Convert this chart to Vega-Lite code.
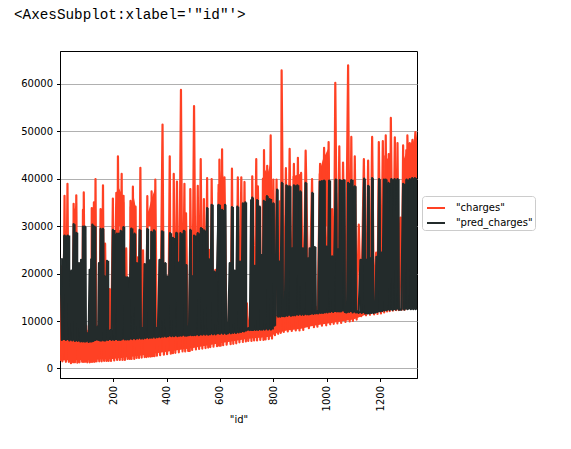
{
"$schema":"https://vega.github.io/schema/vega-lite/v6.json",
"width":357,"height":327,
"autosize":{"type":"none"},
"padding":{"left":60,"top":51,"right":154,"bottom":71},
"background":"white",
"title":{"text":"<AxesSubplot:xlabel='\"id\"'>","font":"Liberation Mono","fontSize":14.3,"fontWeight":"normal","color":"#000","anchor":"start","frame":"group","dx":-46,"offset":29},
"config":{"view":{"stroke":"#000","strokeWidth":1},"axis":{"labelFont":"DejaVu Sans","labelFontSize":10,"labelColor":"#000","titleFont":"DejaVu Sans","titleFontSize":10,"titleFontWeight":"normal","titleColor":"#000","domainColor":"#000","tickColor":"#000","tickSize":3.5}},
"datasets":{
"broad":[{"seg":"A","id":50,"top":33000},{"seg":"A","id":65,"top":35000},{"seg":"B","id":85,"top":33000},{"seg":"B","id":92,"top":36000},{"seg":"C","id":118,"top":33000},{"seg":"C","id":130,"top":34500},{"seg":"D","id":208,"top":34000},{"seg":"D","id":216,"top":37000},{"seg":"D","id":222,"top":38000},{"seg":"D","id":235,"top":36500},{"seg":"D","id":242,"top":35000},{"seg":"E","id":262,"top":34000},{"seg":"E","id":268,"top":35000},{"seg":"E","id":278,"top":36000},{"seg":"E","id":286,"top":33500},{"seg":"F","id":326,"top":35500},{"seg":"F","id":332,"top":33000},{"seg":"F","id":340,"top":35000},{"seg":"F","id":348,"top":36500},{"seg":"F","id":358,"top":38000},{"seg":"G","id":592,"top":37000},{"seg":"G","id":600,"top":40000},{"seg":"G","id":607,"top":43000},{"seg":"G","id":618,"top":38000},{"seg":"H","id":758,"top":38000},{"seg":"H","id":768,"top":42000},{"seg":"H","id":778,"top":41000},{"seg":"H","id":792,"top":44000},{"seg":"L","id":872,"top":40500},{"seg":"L","id":900,"top":41000},{"seg":"I","id":970,"top":41000},{"seg":"I","id":985,"top":44000},{"seg":"I","id":1007,"top":46500},{"seg":"I","id":1012,"top":43000},{"seg":"K","id":1215,"top":45000},{"seg":"K","id":1232,"top":44000},{"seg":"J","id":1288,"top":44000},{"seg":"J","id":1300,"top":46000},{"seg":"J","id":1310,"top":46000},{"seg":"J","id":1320,"top":47000},{"seg":"J","id":1338,"top":48000}],
"band":[{"id":1,"lo":1700,"hi":6300},{"id":100,"lo":1800,"hi":6000},{"id":200,"lo":2000,"hi":6300},{"id":300,"lo":2700,"hi":6600},{"id":400,"lo":3500,"hi":7100},{"id":500,"lo":4300,"hi":7300},{"id":600,"lo":5300,"hi":7600},{"id":655,"lo":5800,"hi":7800},{"id":700,"lo":6200,"hi":8400},{"id":790,"lo":6700,"hi":8500},{"id":800,"lo":7100,"hi":9000},{"id":805,"lo":7300,"hi":11200},{"id":850,"lo":8000,"hi":11400},{"id":900,"lo":8300,"hi":11600},{"id":950,"lo":9000,"hi":11900},{"id":1030,"lo":9700,"hi":12300},{"id":1100,"lo":10300,"hi":12100},{"id":1150,"lo":11400,"hi":11900},{"id":1180,"lo":11700,"hi":12000},{"id":1220,"lo":12200,"hi":12400}],
"charges":[{"id":1,"charges":1600},{"id":4,"charges":9000},{"id":7,"charges":21500},{"id":10,"charges":1500},{"id":14,"charges":9000},{"id":18,"charges":36400},{"id":23,"charges":1400},{"id":29,"charges":38900},{"id":34,"charges":1400},{"id":38,"charges":9000},{"id":42,"charges":1100},{"id":47,"charges":9000},{"id":50,"charges":1300},{"id":52,"charges":34700},{"id":57,"charges":1300},{"id":62,"charges":36500},{"id":66,"charges":1200},{"id":70,"charges":9000},{"id":74,"charges":1300},{"id":80,"charges":9000},{"id":84,"charges":1400},{"id":87,"charges":33400},{"id":89,"charges":1400},{"id":90,"charges":37100},{"id":95,"charges":1400},{"id":99,"charges":9000},{"id":103,"charges":1300},{"id":108,"charges":8000},{"id":112,"charges":1300},{"id":116,"charges":9000},{"id":118,"charges":1400},{"id":120,"charges":33800},{"id":124,"charges":1400},{"id":128,"charges":35000},{"id":131,"charges":1400},{"id":134,"charges":39900},{"id":138,"charges":1500},{"id":144,"charges":9000},{"id":148,"charges":1500},{"id":153,"charges":33600},{"id":157,"charges":1500},{"id":162,"charges":38600},{"id":166,"charges":1600},{"id":170,"charges":26300},{"id":175,"charges":1600},{"id":180,"charges":9000},{"id":183,"charges":1600},{"id":187,"charges":16700},{"id":192,"charges":1600},{"id":199,"charges":35800},{"id":204,"charges":1700},{"id":212,"charges":37000},{"id":215,"charges":1800},{"id":218,"charges":44700},{"id":225,"charges":1800},{"id":232,"charges":41000},{"id":235,"charges":1800},{"id":239,"charges":36400},{"id":244,"charges":1800},{"id":249,"charges":25300},{"id":254,"charges":2000},{"id":259,"charges":9000},{"id":262,"charges":2000},{"id":265,"charges":35300},{"id":269,"charges":2000},{"id":274,"charges":38300},{"id":279,"charges":2000},{"id":284,"charges":34100},{"id":288,"charges":2200},{"id":292,"charges":23400},{"id":297,"charges":2200},{"id":302,"charges":42300},{"id":307,"charges":2300},{"id":312,"charges":24900},{"id":318,"charges":2400},{"id":323,"charges":9000},{"id":325,"charges":2400},{"id":328,"charges":36300},{"id":333,"charges":2500},{"id":338,"charges":10000},{"id":341,"charges":2500},{"id":344,"charges":37300},{"id":348,"charges":2600},{"id":352,"charges":35000},{"id":355,"charges":2600},{"id":358,"charges":39800},{"id":364,"charges":2700},{"id":371,"charges":10000},{"id":376,"charges":2800},{"id":385,"charges":51400},{"id":390,"charges":2900},{"id":397,"charges":9500},{"id":402,"charges":3000},{"id":407,"charges":9000},{"id":412,"charges":44700},{"id":416,"charges":3100},{"id":422,"charges":9500},{"id":424,"charges":3200},{"id":427,"charges":41000},{"id":433,"charges":3300},{"id":439,"charges":39400},{"id":446,"charges":3400},{"id":454,"charges":58700},{"id":460,"charges":3600},{"id":467,"charges":38900},{"id":470,"charges":3600},{"id":473,"charges":32700},{"id":481,"charges":3700},{"id":485,"charges":10000},{"id":487,"charges":3700},{"id":489,"charges":37800},{"id":496,"charges":3900},{"id":503,"charges":55300},{"id":510,"charges":4000},{"id":517,"charges":38500},{"id":522,"charges":4100},{"id":528,"charges":44100},{"id":534,"charges":4200},{"id":540,"charges":35700},{"id":546,"charges":4300},{"id":552,"charges":40100},{"id":556,"charges":4400},{"id":559,"charges":25000},{"id":564,"charges":4500},{"id":569,"charges":39900},{"id":576,"charges":4600},{"id":583,"charges":20800},{"id":589,"charges":4700},{"id":595,"charges":38700},{"id":597,"charges":4800},{"id":598,"charges":44000},{"id":603,"charges":4800},{"id":608,"charges":46200},{"id":612,"charges":4900},{"id":617,"charges":40300},{"id":625,"charges":5000},{"id":635,"charges":10000},{"id":640,"charges":5100},{"id":645,"charges":42100},{"id":650,"charges":5200},{"id":655,"charges":20400},{"id":661,"charges":5300},{"id":667,"charges":40300},{"id":673,"charges":5500},{"id":680,"charges":40300},{"id":686,"charges":5600},{"id":692,"charges":39300},{"id":697,"charges":5700},{"id":701,"charges":13700},{"id":706,"charges":5800},{"id":714,"charges":12000},{"id":718,"charges":5800},{"id":721,"charges":40500},{"id":728,"charges":5900},{"id":736,"charges":44100},{"id":739,"charges":5900},{"id":742,"charges":38400},{"id":751,"charges":6000},{"id":758,"charges":10000},{"id":761,"charges":40000},{"id":763,"charges":6000},{"id":765,"charges":46000},{"id":771,"charges":6100},{"id":777,"charges":42700},{"id":783,"charges":6200},{"id":790,"charges":49100},{"id":795,"charges":6300},{"id":800,"charges":39800},{"id":806,"charges":7000},{"id":812,"charges":39800},{"id":818,"charges":7300},{"id":824,"charges":35200},{"id":828,"charges":7500},{"id":831,"charges":62800},{"id":839,"charges":7700},{"id":847,"charges":42200},{"id":854,"charges":7800},{"id":861,"charges":46300},{"id":869,"charges":7900},{"id":877,"charges":43100},{"id":884,"charges":8000},{"id":892,"charges":44400},{"id":898,"charges":8000},{"id":904,"charges":41200},{"id":912,"charges":8100},{"id":921,"charges":45900},{"id":933,"charges":8500},{"id":945,"charges":39900},{"id":952,"charges":8700},{"id":958,"charges":13000},{"id":965,"charges":8800},{"id":975,"charges":43100},{"id":982,"charges":9000},{"id":990,"charges":46500},{"id":998,"charges":9100},{"id":1007,"charges":47700},{"id":1013,"charges":9300},{"id":1020,"charges":33600},{"id":1026,"charges":9400},{"id":1032,"charges":60200},{"id":1040,"charges":9500},{"id":1047,"charges":46800},{"id":1054,"charges":9600},{"id":1061,"charges":43400},{"id":1070,"charges":9800},{"id":1080,"charges":63900},{"id":1086,"charges":9900},{"id":1092,"charges":48800},{"id":1098,"charges":10000},{"id":1105,"charges":44700},{"id":1112,"charges":10300},{"id":1120,"charges":30300},{"id":1129,"charges":11000},{"id":1139,"charges":44100},{"id":1147,"charges":11200},{"id":1155,"charges":43800},{"id":1162,"charges":11300},{"id":1170,"charges":48800},{"id":1177,"charges":11400},{"id":1185,"charges":24400},{"id":1190,"charges":11500},{"id":1195,"charges":47700},{"id":1203,"charges":11600},{"id":1210,"charges":47900},{"id":1215,"charges":11800},{"id":1221,"charges":49100},{"id":1226,"charges":12000},{"id":1232,"charges":45200},{"id":1236,"charges":12100},{"id":1240,"charges":52800},{"id":1248,"charges":12200},{"id":1255,"charges":48700},{"id":1260,"charges":12300},{"id":1265,"charges":47500},{"id":1270,"charges":12300},{"id":1276,"charges":31800},{"id":1281,"charges":12400},{"id":1286,"charges":47000},{"id":1292,"charges":12400},{"id":1298,"charges":46000},{"id":1300,"charges":14000},{"id":1302,"charges":49100},{"id":1306,"charges":40000},{"id":1311,"charges":47500},{"id":1316,"charges":45000},{"id":1321,"charges":48200},{"id":1326,"charges":44000},{"id":1332,"charges":49800},{"id":1336,"charges":47000},{"id":1338,"charges":48500}],
"pred":[{"id":3,"p":23200},{"id":8,"p":6000},{"id":18,"p":28000},{"id":23,"p":6000},{"id":30,"p":28000},{"id":36,"p":5900},{"id":43,"p":20600},{"id":47,"p":5900},{"id":52,"p":30400},{"id":57,"p":5800},{"id":62,"p":28600},{"id":67,"p":5800},{"id":72,"p":22200},{"id":77,"p":5700},{"id":80,"p":22900},{"id":85,"p":5700},{"id":87,"p":29900},{"id":92,"p":5700},{"id":94,"p":29900},{"id":98,"p":5700},{"id":103,"p":7400},{"id":108,"p":5600},{"id":112,"p":20800},{"id":115,"p":5700},{"id":118,"p":23000},{"id":120,"p":5700},{"id":122,"p":30300},{"id":126,"p":5800},{"id":130,"p":29900},{"id":134,"p":6000},{"id":142,"p":8800},{"id":144,"p":6000},{"id":147,"p":22200},{"id":151,"p":5900},{"id":153,"p":29400},{"id":157,"p":5900},{"id":162,"p":29400},{"id":166,"p":5900},{"id":168,"p":19400},{"id":171,"p":5900},{"id":177,"p":22700},{"id":181,"p":6000},{"id":190,"p":8100},{"id":194,"p":6000},{"id":199,"p":29200},{"id":204,"p":6000},{"id":214,"p":28400},{"id":218,"p":6000},{"id":222,"p":28400},{"id":226,"p":6000},{"id":228,"p":29000},{"id":232,"p":6100},{"id":239,"p":29800},{"id":244,"p":6100},{"id":247,"p":19200},{"id":251,"p":6100},{"id":254,"p":19200},{"id":259,"p":6100},{"id":268,"p":29500},{"id":272,"p":6200},{"id":280,"p":28400},{"id":284,"p":6200},{"id":289,"p":22200},{"id":294,"p":6300},{"id":299,"p":29200},{"id":304,"p":6300},{"id":309,"p":8500},{"id":313,"p":6300},{"id":318,"p":22000},{"id":322,"p":6400},{"id":328,"p":29400},{"id":333,"p":6400},{"id":337,"p":22800},{"id":341,"p":6500},{"id":343,"p":28800},{"id":347,"p":6500},{"id":353,"p":29100},{"id":358,"p":6500},{"id":362,"p":8500},{"id":367,"p":6600},{"id":374,"p":22900},{"id":378,"p":6600},{"id":383,"p":28900},{"id":388,"p":6700},{"id":395,"p":22200},{"id":399,"p":6700},{"id":402,"p":19400},{"id":406,"p":6800},{"id":413,"p":28500},{"id":418,"p":6800},{"id":424,"p":27500},{"id":428,"p":6800},{"id":437,"p":28600},{"id":441,"p":6800},{"id":446,"p":22300},{"id":449,"p":6900},{"id":452,"p":28500},{"id":457,"p":6900},{"id":465,"p":29000},{"id":469,"p":6900},{"id":474,"p":21800},{"id":476,"p":6900},{"id":480,"p":8800},{"id":484,"p":7000},{"id":489,"p":29200},{"id":493,"p":7000},{"id":497,"p":19400},{"id":500,"p":7000},{"id":503,"p":28000},{"id":508,"p":7000},{"id":517,"p":28500},{"id":521,"p":7000},{"id":529,"p":29600},{"id":534,"p":7100},{"id":540,"p":29100},{"id":545,"p":7100},{"id":552,"p":33800},{"id":556,"p":7100},{"id":559,"p":23000},{"id":563,"p":7200},{"id":569,"p":34500},{"id":574,"p":7200},{"id":580,"p":20400},{"id":584,"p":7200},{"id":595,"p":34500},{"id":600,"p":7300},{"id":608,"p":33400},{"id":612,"p":7300},{"id":619,"p":34500},{"id":623,"p":7300},{"id":626,"p":9500},{"id":630,"p":7400},{"id":637,"p":22200},{"id":641,"p":7400},{"id":645,"p":34000},{"id":650,"p":7500},{"id":655,"p":20600},{"id":660,"p":7500},{"id":665,"p":34100},{"id":670,"p":7600},{"id":675,"p":22500},{"id":679,"p":7700},{"id":686,"p":34800},{"id":690,"p":7800},{"id":695,"p":35000},{"id":698,"p":8000},{"id":706,"p":8500},{"id":712,"p":8100},{"id":717,"p":35500},{"id":719,"p":8100},{"id":721,"p":36000},{"id":725,"p":8100},{"id":730,"p":21600},{"id":734,"p":8100},{"id":739,"p":35500},{"id":743,"p":8100},{"id":749,"p":34100},{"id":753,"p":8200},{"id":755,"p":23900},{"id":759,"p":8200},{"id":764,"p":35300},{"id":768,"p":8200},{"id":776,"p":36300},{"id":780,"p":8200},{"id":786,"p":35700},{"id":791,"p":8200},{"id":800,"p":34800},{"id":804,"p":9000},{"id":807,"p":11000},{"id":814,"p":37700},{"id":818,"p":10900},{"id":822,"p":22500},{"id":826,"p":10900},{"id":832,"p":39100},{"id":836,"p":11000},{"id":841,"p":12000},{"id":843,"p":11000},{"id":849,"p":38600},{"id":853,"p":11100},{"id":861,"p":38400},{"id":866,"p":11100},{"id":870,"p":25300},{"id":874,"p":11200},{"id":877,"p":38600},{"id":882,"p":11200},{"id":890,"p":38600},{"id":894,"p":11300},{"id":901,"p":37300},{"id":905,"p":11300},{"id":910,"p":25300},{"id":914,"p":11300},{"id":921,"p":39100},{"id":925,"p":11400},{"id":930,"p":23200},{"id":933,"p":11400},{"id":936,"p":25300},{"id":940,"p":11500},{"id":946,"p":37000},{"id":950,"p":11500},{"id":955,"p":25600},{"id":959,"p":11600},{"id":964,"p":12000},{"id":968,"p":11600},{"id":974,"p":39400},{"id":978,"p":11700},{"id":982,"p":39500},{"id":986,"p":11700},{"id":990,"p":39600},{"id":994,"p":11800},{"id":999,"p":25700},{"id":1003,"p":11800},{"id":1009,"p":39600},{"id":1013,"p":11900},{"id":1020,"p":23600},{"id":1024,"p":11900},{"id":1034,"p":39800},{"id":1038,"p":12000},{"id":1042,"p":25100},{"id":1046,"p":12000},{"id":1049,"p":39700},{"id":1053,"p":12000},{"id":1064,"p":39700},{"id":1068,"p":11900},{"id":1074,"p":11800},{"id":1076,"p":11900},{"id":1080,"p":39100},{"id":1084,"p":11900},{"id":1092,"p":39700},{"id":1097,"p":11800},{"id":1105,"p":38400},{"id":1109,"p":11800},{"id":1115,"p":12000},{"id":1119,"p":11700},{"id":1127,"p":22900},{"id":1131,"p":11700},{"id":1140,"p":40000},{"id":1144,"p":11600},{"id":1149,"p":22900},{"id":1152,"p":11600},{"id":1155,"p":38500},{"id":1159,"p":11600},{"id":1164,"p":23200},{"id":1167,"p":11700},{"id":1170,"p":40100},{"id":1175,"p":11700},{"id":1178,"p":12000},{"id":1182,"p":11800},{"id":1186,"p":23500},{"id":1190,"p":11900},{"id":1196,"p":39900},{"id":1200,"p":12000},{"id":1205,"p":24400},{"id":1208,"p":12100},{"id":1214,"p":39800},{"id":1217,"p":12200},{"id":1221,"p":39800},{"id":1225,"p":12300},{"id":1231,"p":39100},{"id":1235,"p":12300},{"id":1242,"p":39900},{"id":1246,"p":12300},{"id":1254,"p":39900},{"id":1258,"p":12400},{"id":1265,"p":39900},{"id":1270,"p":12400},{"id":1276,"p":12400},{"id":1279,"p":12400},{"id":1286,"p":38900},{"id":1290,"p":12400},{"id":1299,"p":39800},{"id":1303,"p":12500},{"id":1311,"p":39900},{"id":1315,"p":12500},{"id":1320,"p":40100},{"id":1324,"p":12500},{"id":1330,"p":40100},{"id":1333,"p":12500},{"id":1338,"p":40100}]
},
"encoding":{
"x":{"type":"quantitative","scale":{"domain":[1,1338],"nice":false,"zero":false},"axis":{"values":[200,400,600,800,1000,1200],"grid":false,"labelAngle":-90,"labelAlign":"right","labelBaseline":"middle","title":"\"id\"","titleY":36,"labelPadding":4,"format":"d"}},
"y":{"type":"quantitative","scale":{"domain":[-2011,66902],"nice":false,"zero":false},"axis":{"values":[0,10000,20000,30000,40000,50000,60000],"grid":true,"gridColor":"#b0b0b0","gridWidth":1,"title":null,"labelPadding":4,"format":"d"}}
},
"layer":[
{"data":{"name":"band"},"mark":{"type":"area","color":"#ff4124","clip":true},
"encoding":{"x":{"field":"id","type":"quantitative"},"y":{"field":"lo","type":"quantitative"},"y2":{"field":"hi"}}},
{"data":{"name":"broad"},"mark":{"type":"area","color":"#ff4124","clip":true},
"encoding":{"x":{"field":"id","type":"quantitative"},"y":{"field":"top","type":"quantitative"},"y2":{"datum":30000},"detail":{"field":"seg"}}},
{"data":{"name":"charges"},"mark":{"type":"line","strokeWidth":2.2,"clip":true,"strokeJoin":"round"},
"encoding":{"x":{"field":"id","type":"quantitative"},"y":{"field":"charges","type":"quantitative"},
"color":{"datum":"\"charges\"","type":"nominal","scale":{"domain":["\"charges\"","\"pred_charges\""],"range":["#ff4124","#232b2b"]},
"legend":{"title":null,"orient":"none","legendX":362,"legendY":145,"symbolType":"stroke","symbolSize":324,"symbolStrokeWidth":2,"symbolOffset":2,"labelFont":"DejaVu Sans","labelFontSize":10,"labelColor":"#000","labelOffset":10,"rowPadding":-2,"padding":2,"strokeColor":"#ccc","cornerRadius":3,"fillColor":"#fff"}}}},
{"data":{"name":"pred"},"transform":[{"window":[{"op":"max","field":"p","as":"hi"},{"op":"min","field":"p","as":"lo"}],"frame":[-1,0],"sort":[{"field":"id"}]}],"mark":{"type":"area","color":"#232b2b","clip":true,"interpolate":"step"},
"encoding":{"x":{"field":"id","type":"quantitative"},"y":{"field":"hi","type":"quantitative"},"y2":{"field":"lo"}}},
{"data":{"name":"pred"},"mark":{"type":"line","strokeWidth":2.2,"clip":true,"strokeJoin":"round"},
"encoding":{"x":{"field":"id","type":"quantitative"},"y":{"field":"p","type":"quantitative"},"color":{"datum":"\"pred_charges\"","type":"nominal"}}}
]
}
